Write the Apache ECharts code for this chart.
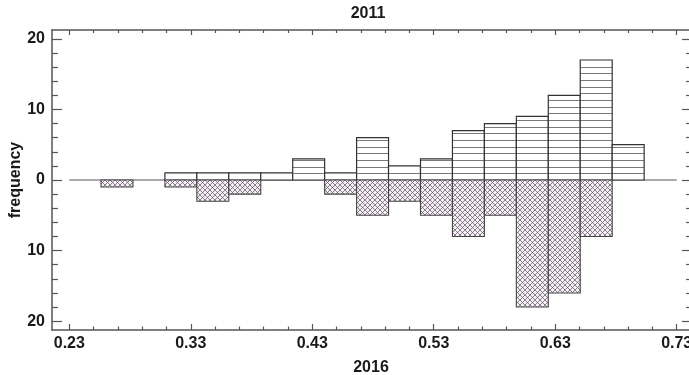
<!DOCTYPE html>
<html>
<head>
<meta charset="utf-8">
<script src="https://cdn.jsdelivr.net/npm/echarts@6/dist/echarts.min.js"></script>
<style>
html,body{margin:0;padding:0;background:#fff;}
#chart{width:689px;height:375px;}
</style>
</head>
<body>
<div id="chart"></div>
<script>
// ---- data ----
const binEdges = [0.2561, 0.2824, 0.3087, 0.3350, 0.3613, 0.3876, 0.4139, 0.4402, 0.4665,
                  0.4928, 0.5191, 0.5454, 0.5717, 0.5980, 0.6243, 0.6506, 0.6769, 0.7032];
const freq2011 = [0, 0, 1, 1, 1, 1, 3, 1, 6, 2, 3, 7, 8, 9, 12, 17, 5];   // upper histogram
const freq2016 = [1, 0, 1, 3, 2, 0, 0, 2, 5, 3, 5, 8, 5, 18, 16, 8, 0];   // lower histogram (mirrored)
const xMajorTicks = [0.23, 0.33, 0.43, 0.53, 0.63, 0.73];
const xMinorTicks = [0.25, 0.27, 0.29, 0.31, 0.35, 0.37, 0.39, 0.41, 0.45, 0.47, 0.49, 0.51,
                     0.55, 0.57, 0.59, 0.61, 0.65, 0.67, 0.69, 0.71];
const yMajorTicks = [-20, -10, 0, 10, 20];
const yMinorTicks = [-18, -16, -14, -12, -8, -6, -4, -2, 2, 4, 6, 8, 12, 14, 16, 18];
const zeroLineRange = [0.23, 0.73];
const xRange = [0.21576, 0.74095];
const yRange = [-21.25, 21.25];

// ---- patterns ----
function crossPattern() {
  const c = document.createElement('canvas');
  c.width = 5; c.height = 5;
  const g = c.getContext('2d');
  g.fillStyle = '#f6eef6';
  g.fillRect(0, 0, 5, 5);
  g.strokeStyle = 'rgba(95,85,95,0.8)';
  g.lineWidth = 0.9;
  g.beginPath();
  g.moveTo(-1, -1); g.lineTo(6, 6);
  g.moveTo(6, -1); g.lineTo(-1, 6);
  g.stroke();
  return c;
}
const crossImg = crossPattern();

const upData = freq2011.map((v, i) => [binEdges[i], binEdges[i + 1], v]).filter(d => d[2] > 0);
const downData = freq2016.map((v, i) => [binEdges[i], binEdges[i + 1], -v]).filter(d => d[2] < 0);

function renderUp(params, api) {
  const p0 = api.coord([api.value(0), 0]);
  const p1 = api.coord([api.value(1), api.value(2)]);
  const x = p0[0], w = p1[0] - p0[0];
  const top = p1[1], bottom = p0[1];
  const children = [{
    type: 'rect',
    shape: { x: x, y: top, width: w, height: bottom - top },
    style: { fill: '#ffffff', stroke: 'none' }
  }];
  const step = 6.67;
  for (let yy = bottom - step; yy > top + 1; yy -= step) {
    children.push({
      type: 'line',
      shape: { x1: x, y1: Math.round(yy) + 0.5, x2: x + w, y2: Math.round(yy) + 0.5 },
      style: { stroke: '#7a7a7a', lineWidth: 1 }
    });
  }
  children.push({
    type: 'rect',
    shape: { x: x, y: top, width: w, height: bottom - top },
    style: { fill: 'none', stroke: '#333333', lineWidth: 1.2 }
  });
  return { type: 'group', children: children };
}

function renderDown(params, api) {
  const p0 = api.coord([api.value(0), 0]);
  const p1 = api.coord([api.value(1), api.value(2)]);
  return {
    type: 'rect',
    shape: { x: p0[0], y: p0[1], width: p1[0] - p0[0], height: p1[1] - p0[1] },
    style: { fill: { image: crossImg, repeat: 'repeat' }, stroke: '#444444', lineWidth: 1.1 }
  };
}

const lineStyle = { color: '#555555', width: 1.5 };
const labelFont = { fontFamily: 'Liberation Sans, Arial, sans-serif', fontWeight: 'bold', fontSize: 16, color: '#1a1a1a' };

function xAx(pos, ticks, len, showLine, showLabel, extra) {
  return Object.assign({
    type: 'value', position: pos, min: xRange[0], max: xRange[1],
    axisLine: { show: showLine, onZero: false, lineStyle: lineStyle },
    axisTick: { show: true, inside: true, length: len, customValues: ticks, lineStyle: { color: '#555', width: 1.2 } },
    axisLabel: showLabel ? Object.assign({ show: true, margin: 6, customValues: ticks, formatter: v => v.toFixed(2), hideOverlap: false }, labelFont) : { show: false },
    splitLine: { show: false }
  }, extra || {});
}
function yAx(pos, ticks, len, showLine, showLabel, extra) {
  return Object.assign({
    type: 'value', position: pos, min: yRange[0], max: yRange[1],
    axisLine: { show: showLine, onZero: false, lineStyle: lineStyle },
    axisTick: { show: true, inside: true, length: len, customValues: ticks, lineStyle: { color: '#555', width: 1.2 } },
    axisLabel: showLabel ? Object.assign({ show: true, margin: 7, customValues: ticks, formatter: v => String(Math.abs(v)) }, labelFont) : { show: false },
    splitLine: { show: false }
  }, extra || {});
}

const nameFont = { fontFamily: 'Liberation Sans, Arial, sans-serif', fontWeight: 'bold', fontSize: 16, color: '#1a1a1a' };

const chart = echarts.init(document.getElementById('chart'), null, { renderer: 'canvas' });
chart.setOption({
  animation: false,
  backgroundColor: '#ffffff',
  title: {
    text: '2011', left: 368, top: 6, textAlign: 'center', padding: 0,
    textStyle: nameFont
  },
  grid: { left: 52, top: 30, width: 638, height: 300, containLabel: false, outerBoundsMode: 'none' },
  xAxis: [
    xAx('bottom', xMajorTicks, 6, true, true, {
      name: '2016', nameLocation: 'middle', nameGap: 30, nameMoveOverlap: false, nameTextStyle: nameFont
    }),
    xAx('bottom', xMinorTicks, 3.5, false, false),
    xAx('top', xMajorTicks, 5, true, false),
    xAx('top', xMinorTicks, 3, false, false)
  ],
  yAxis: [
    yAx('left', yMajorTicks, 10, true, true, {
      name: 'frequency', nameLocation: 'middle', nameGap: 28, nameMoveOverlap: false, nameTextStyle: nameFont
    }),
    yAx('left', yMinorTicks, 6, false, false),
    yAx('right', yMajorTicks, 8, true, false),
    yAx('right', yMinorTicks, 4, false, false)
  ],
  series: [
    {
      type: 'line', xAxisIndex: 0, yAxisIndex: 0, silent: true, symbol: 'none',
      data: [[zeroLineRange[0], 0], [zeroLineRange[1], 0]],
      lineStyle: { color: '#555555', width: 1.2 }, z: 1
    },
    { type: 'custom', xAxisIndex: 0, yAxisIndex: 0, renderItem: renderUp, data: upData, z: 2, clip: true },
    { type: 'custom', xAxisIndex: 0, yAxisIndex: 0, renderItem: renderDown, data: downData, z: 2, clip: true }
  ]
});
</script>
</body>
</html>
